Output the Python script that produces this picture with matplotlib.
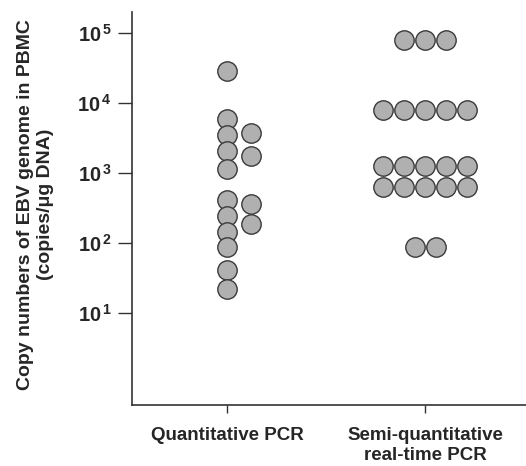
import numpy as np
import matplotlib
matplotlib.use("Agg")
import matplotlib.pyplot as plt
from matplotlib.ticker import FixedLocator, FuncFormatter, NullLocator

plt.rcParams['font.family'] = ['Liberation Sans', 'DejaVu Sans']
plt.rcParams['mathtext.fontset'] = 'custom'
plt.rcParams['mathtext.rm'] = 'Liberation Sans:bold'
plt.rcParams['mathtext.bf'] = 'Liberation Sans:bold'

# copies / ug DNA
groups = ['Quantitative PCR', 'Semi-quantitative\nreal-time PCR']
quant_main = [28600, 6000, 3500, 2060, 1130, 410, 245, 145, 89, 42, 22]
quant_side = [3800, 1750, 360, 185]
semi_rows = [81000, 8100, 1270, 640, 89]
semi_counts = [3, 5, 5, 5, 2]
yticks = [1e1, 1e2, 1e3, 1e4, 1e5]

fill = '#b0b0b0'
edge = '#3a3a3a'
text_col = '#262626'
step = 0.106  # horizontal spacing between touching dots

fig = plt.figure(figsize=(5.26, 4.66), dpi=100)
ax = fig.add_axes([0.251, 0.131, 0.75, 0.843])

mk = dict(marker='o', s=195, c=fill, edgecolors=edge, linewidths=1.0,
          zorder=3, clip_on=False)

ax.scatter(np.full(len(quant_main), 1.0), quant_main, **mk)
ax.scatter(np.full(len(quant_side), 1.0 + 1.15 * step), quant_side, **mk)

for val, n in zip(semi_rows, semi_counts):
    xs = 2.0 + (np.arange(n) - (n - 1) / 2) * step
    ax.scatter(xs, np.full(n, val), **mk)

ax.set_yscale('log')
ax.set_ylim(0.49, 10 ** 5.3)
ax.set_xlim(0.52, 2.51)

ax.yaxis.set_major_locator(FixedLocator(yticks))
ax.yaxis.set_minor_locator(NullLocator())
ax.yaxis.set_major_formatter(FuncFormatter(
    lambda v, p: r'$\mathbf{10^{\,%d}}$' % round(np.log10(v))))
ax.set_xticks([1, 2])
ax.set_xticklabels(groups, fontweight='bold', fontsize=13.5, color=text_col,
                   linespacing=1.2)

ax.tick_params(axis='y', length=10, width=1, pad=4.5, labelsize=14.5,
               labelcolor=text_col, color='#333333')
ax.tick_params(axis='x', length=6, width=1, pad=10, color='#333333')

for s in ['top', 'right']:
    ax.spines[s].set_visible(False)
for s in ['left', 'bottom']:
    ax.spines[s].set_linewidth(1.2)
    ax.spines[s].set_color('#333333')

ax.set_ylabel('Copy numbers of EBV genome in PBMC\n(copies/\u03bcg DNA)',
              fontweight='bold', fontsize=14, color=text_col,
              linespacing=1.25)
ax.yaxis.set_label_coords(-0.197, 0.51)

fig.savefig('out.png', dpi=100)
